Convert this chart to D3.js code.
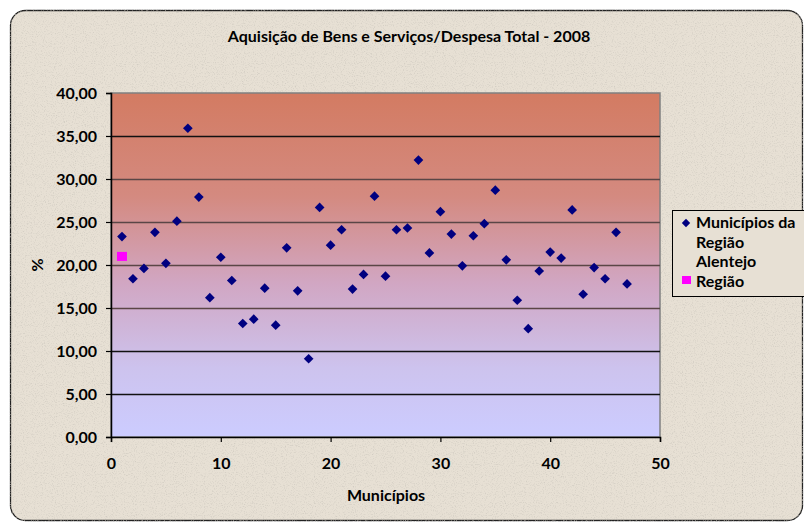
<!DOCTYPE html>
<html>
<head>
<meta charset="utf-8">
<script src="https://cdn.jsdelivr.net/npm/d3@7"></script>
<style>
  body { margin: 0; background: #ffffff; }
  text { font-family: Lato, "Open Sans", sans-serif; font-weight: bold; fill: #000; }
</style>
</head>
<body>
<div id="chart"></div>
<script>
var svgWidth = 804;
var svgHeight = 522;

// Municipality number (x) and share in % (y)
var municipios = [1, 2, 3, 4, 5, 6, 7, 8, 9, 10, 11, 12, 13, 14, 15, 16, 17, 18, 19, 20,
    21, 22, 23, 24, 25, 26, 27, 28, 29, 30, 31, 32, 33, 34, 35, 36, 37, 38, 39, 40,
    41, 42, 43, 44, 45, 46, 47];
var percentagens = [23.3, 18.4, 19.6, 23.8, 20.2, 25.1, 35.9, 27.9, 16.2, 20.9,
    18.2, 13.2, 13.7, 17.3, 13.0, 22.0, 17.0, 9.1, 26.7, 22.3,
    24.1, 17.2, 18.9, 28.0, 18.7, 24.1, 24.3, 32.2, 21.4, 26.2,
    23.6, 19.9, 23.4, 24.8, 28.7, 20.6, 15.9, 12.6, 19.3, 21.5,
    20.8, 26.4, 16.6, 19.7, 18.4, 23.8, 17.8];
var regiaoX = [1];
var regiaoY = [21.0];

var xTicks = [0, 10, 20, 30, 40, 50];
var yTicks = [0, 5, 10, 15, 20, 25, 30, 35, 40];
var legendLabels = [["Municípios da", "Região", "Alentejo"], ["Região"]];

var margin = { top: 93, right: 144, bottom: 85, left: 111 };
var width = svgWidth - margin.left - margin.right;
var height = svgHeight - margin.top - margin.bottom;

var svg = d3.select("#chart")
    .append("svg")
    .attr("width", svgWidth)
    .attr("height", svgHeight);

var defs = svg.append("defs");

var grad = defs.append("linearGradient")
    .attr("id", "plotFill")
    .attr("x1", 0).attr("y1", 0)
    .attr("x2", 0).attr("y2", 1);
grad.append("stop").attr("offset", "0%").attr("stop-color", "#d37b62");
grad.append("stop").attr("offset", "30%").attr("stop-color", "#d48a80");
grad.append("stop").attr("offset", "55%").attr("stop-color", "#d1a6c2");
grad.append("stop").attr("offset", "80%").attr("stop-color", "#cdc3ee");
grad.append("stop").attr("offset", "100%").attr("stop-color", "#ccccff");

// speckled paper texture
var paper = defs.append("filter").attr("id", "paper");
paper.append("feTurbulence")
    .attr("type", "fractalNoise")
    .attr("baseFrequency", 0.9)
    .attr("numOctaves", 2)
    .attr("seed", 3)
    .attr("result", "noise");
paper.append("feColorMatrix")
    .attr("in", "noise")
    .attr("type", "matrix")
    .attr("values", "0 0 0 0 0.55  0 0 0 0 0.52  0 0 0 0 0.47  0 0 0 -1.6 0.8")
    .attr("result", "dots");
paper.append("feComposite")
    .attr("in", "dots")
    .attr("in2", "SourceGraphic")
    .attr("operator", "atop");

svg.append("rect")
    .attr("x", 10.5).attr("y", 10.5)
    .attr("width", 792).attr("height", 510)
    .attr("rx", 15)
    .attr("fill", "#e7e0d4")
    .attr("stroke", "#222")
    .attr("stroke-width", 1.3)
    .attr("filter", "url(#paper)");

var chartGroup = svg.append("g")
    .attr("transform", `translate(${margin.left}, ${margin.top})`);

var xScale = d3.scaleLinear().domain([0, 50]).range([0, width]);
var yScale = d3.scaleLinear().domain([0, 40]).range([height, 0]);

chartGroup.append("rect")
    .attr("width", width)
    .attr("height", height)
    .attr("fill", "url(#plotFill)")
    .attr("stroke", "#808080")
    .attr("stroke-width", 1.5);

// gridlines (the middle ones look lighter on the reference)
chartGroup.selectAll(".grid")
    .data(yTicks.filter(d => d > 0 && d < 40))
    .enter()
    .append("line")
    .attr("x1", 0)
    .attr("x2", width)
    .attr("y1", d => Math.round(yScale(d)) + 0.5)
    .attr("y2", d => Math.round(yScale(d)) + 0.5)
    .attr("stroke", d => (d >= 15 && d <= 30) ? "#5a4646" : "#111")
    .attr("stroke-width", 1.3);

var bottomAxis = d3.axisBottom(xScale)
    .tickValues(xTicks)
    .tickSize(5)
    .tickPadding(16)
    .tickFormat(d3.format("d"));
var leftAxis = d3.axisLeft(yScale)
    .tickValues(yTicks)
    .tickSize(5)
    .tickPadding(9)
    .tickFormat(d => d3.format(".2f")(d).replace(".", ","));

var xAxisG = chartGroup.append("g")
    .attr("transform", `translate(0, ${height})`)
    .call(bottomAxis);
var yAxisG = chartGroup.append("g")
    .call(leftAxis);

[xAxisG, yAxisG].forEach(function(g) {
    g.select(".domain").attr("stroke", "#000").attr("stroke-width", 1.5);
    g.selectAll(".tick line").attr("stroke", "#000").attr("stroke-width", 1.2);
    g.selectAll(".tick text")
        .style("font-size", "16px")
        .style("font-family", "Lato, sans-serif")
        .style("font-weight", "bold");
});

// points
var diamond = d3.symbol().type(d3.symbolDiamond2).size(60);

chartGroup.selectAll(".pt")
    .data(municipios)
    .enter()
    .append("path")
    .attr("class", "pt")
    .attr("d", diamond)
    .attr("transform", (d, i) => `translate(${xScale(d)}, ${yScale(percentagens[i])})`)
    .attr("fill", "#000080");

chartGroup.selectAll(".reg")
    .data(regiaoX)
    .enter()
    .append("rect")
    .attr("class", "reg")
    .attr("x", d => xScale(d) - 5)
    .attr("y", (d, i) => yScale(regiaoY[i]) - 4.5)
    .attr("width", 10)
    .attr("height", 9)
    .attr("fill", "#ff00ff");

// titles
svg.append("text")
    .attr("x", 409)
    .attr("y", 42)
    .attr("text-anchor", "middle")
    .style("font-size", "16px")
    .text("Aquisição de Bens e Serviços/Despesa Total - 2008");

svg.append("text")
    .attr("x", 386)
    .attr("y", 501)
    .attr("text-anchor", "middle")
    .style("font-size", "16px")
    .text("Municípios");

svg.append("text")
    .attr("transform", "translate(43, 265) rotate(-90)")
    .attr("text-anchor", "middle")
    .style("font-size", "16px")
    .text("%");

// legend
var legend = svg.append("g");
legend.append("rect")
    .attr("x", 672.5).attr("y", 210.5)
    .attr("width", 140).attr("height", 86)
    .attr("fill", "#e7e0d4")
    .attr("stroke", "#000")
    .attr("stroke-width", 1);

legend.append("path")
    .attr("d", d3.symbol().type(d3.symbolDiamond2).size(45))
    .attr("transform", "translate(686, 223)")
    .attr("fill", "#000080");
legend.append("rect")
    .attr("x", 682).attr("y", 276)
    .attr("width", 9).attr("height", 8)
    .attr("fill", "#ff00ff");

legend.selectAll(".l0")
    .data(legendLabels[0])
    .enter()
    .append("text")
    .attr("x", 696)
    .attr("y", (d, i) => 228 + i * 19.5)
    .style("font-size", "16px")
    .text(d => d);
legend.append("text")
    .attr("x", 696)
    .attr("y", 286.5)
    .style("font-size", "16px")
    .text(legendLabels[1][0]);
</script>
</body>
</html>
